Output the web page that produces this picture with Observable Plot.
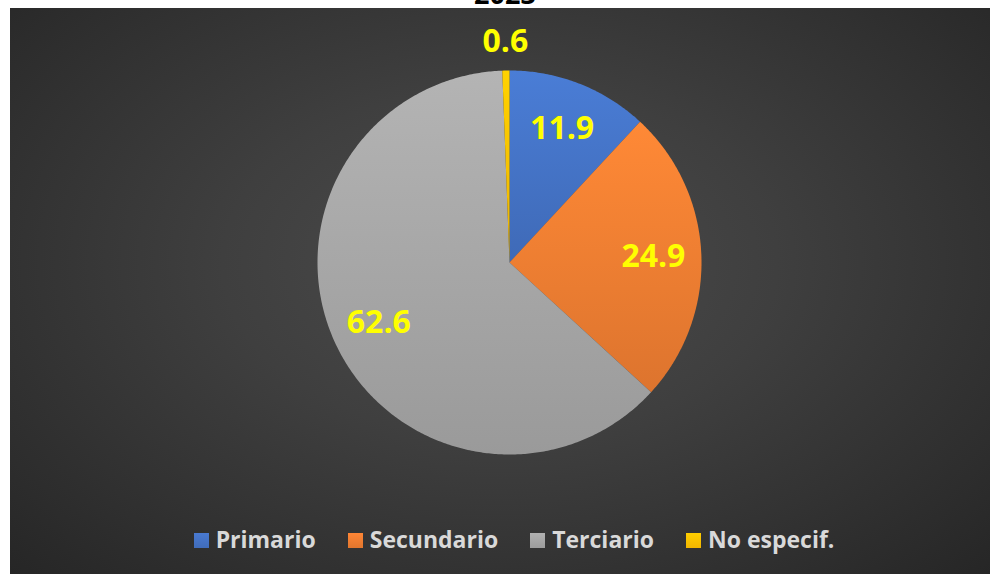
<!DOCTYPE html>
<html>
<head>
<meta charset="utf-8">
<script src="https://cdn.jsdelivr.net/npm/d3@7"></script>
<script src="https://cdn.jsdelivr.net/npm/@observablehq/plot@0.6"></script>
<style>
  html, body { margin: 0; padding: 0; background: #fff; }
  #wrap { position: relative; width: 997px; height: 574px; overflow: hidden; background: #fff; }
  #panel { position: absolute; left: 10px; top: 8px; width: 980px; height: 566px;
    background: radial-gradient(ellipse at 50% 45%, #4c4c4c 0%, #3f3f3f 40%, #262626 100%); }
  #title { position: absolute; left: 0; width: 1010px; top: -20px; text-align: center;
    font: bold 27px "Open Sans", sans-serif; color: #000; line-height: 27px; z-index: 2; }
  #chart { position: absolute; left: 0; top: 0; }
  #legend { position: absolute; left: 14px; width: 1000px; top: 523px; display: flex; justify-content: center;
    gap: 32px; font: bold 23px "Open Sans", sans-serif; color: #d9d9d9; }
  #legend .item { display: flex; align-items: center; }
  #legend .sw { width: 15px; height: 15px; margin-right: 7px; margin-top: 2px; }
</style>
</head>
<body>
<div id="wrap">
  <div id="panel"></div>
  <div id="title"></div>
  <div id="chart"></div>
  <div id="legend"></div>
</div>
<script>
const title = "2023";
const categories = ["Primario", "Secundario", "Terciario", "No especif."];
const values = [11.9, 24.9, 62.6, 0.6];
const colors = ["#4472C4", "#ED7D31", "#A5A5A5", "#FFC000"];

const data = categories.map((c, i) => ({cat: c, value: values[i], idx: i}));
const arcs = d3.pie().sort(null).value(d => d.value)(data);

// polygon points for each slice, derived from the pie layout
const pts = [];
arcs.forEach(a => {
  const n = Math.max(4, Math.ceil((a.endAngle - a.startAngle) / 0.01));
  pts.push({cat: a.data.cat, fill: `url(#g${a.data.idx})`, x: 0, y: 0});
  for (let k = 0; k <= n; k++) {
    const t = a.startAngle + (a.endAngle - a.startAngle) * k / n;
    pts.push({cat: a.data.cat, fill: `url(#g${a.data.idx})`, x: Math.sin(t), y: Math.cos(t)});
  }
});

const labels = arcs.map(a => {
  const m = (a.startAngle + a.endAngle) / 2;
  const r = a.data.value < 2 ? 1.15 : 0.75;
  return {text: String(a.data.value), x: r * Math.sin(m), y: r * Math.cos(m)};
});

const W = 997, H = 510;
const plot = Plot.plot({
  width: W, height: H,
  marginLeft: 317, marginRight: W - 701,
  marginTop: 70, marginBottom: H - 454,
  x: {domain: [-1, 1], axis: null},
  y: {domain: [-1, 1], axis: null},
  color: {type: "identity"},
  style: {background: "transparent", overflow: "visible"},
  marks: [
    Plot.line(pts, {x: "x", y: "y", z: "cat", fill: "fill", stroke: "none", curve: "linear"}),
    Plot.text(labels, {x: "x", y: "y", text: "text", fill: "#FFFF00", fontSize: 32, fontWeight: "bold",
      fontFamily: "Open Sans, sans-serif", textAnchor: "middle"})
  ]
});

// gradient definitions for the slices
const svg = d3.select(plot);
const defs = svg.insert("defs", ":first-child");
colors.forEach((c, i) => {
  const g = defs.append("linearGradient").attr("id", `g${i}`).attr("x1", 0).attr("y1", 0).attr("x2", 0).attr("y2", 1);
  g.append("stop").attr("offset", "0%").attr("stop-color", d3.rgb(c).brighter(0.25));
  g.append("stop").attr("offset", "100%").attr("stop-color", d3.rgb(c).darker(0.2));
});
document.getElementById("chart").appendChild(plot);
document.getElementById("title").textContent = title;

const legend = document.getElementById("legend");
categories.forEach((c, i) => {
  const it = document.createElement("div"); it.className = "item";
  const sw = document.createElement("div"); sw.className = "sw";
  sw.style.background = `linear-gradient(${d3.rgb(colors[i]).brighter(0.2)}, ${d3.rgb(colors[i]).darker(0.15)})`;
  const tx = document.createElement("span"); tx.textContent = c;
  it.appendChild(sw); it.appendChild(tx); legend.appendChild(it);
});
</script>
</body>
</html>
